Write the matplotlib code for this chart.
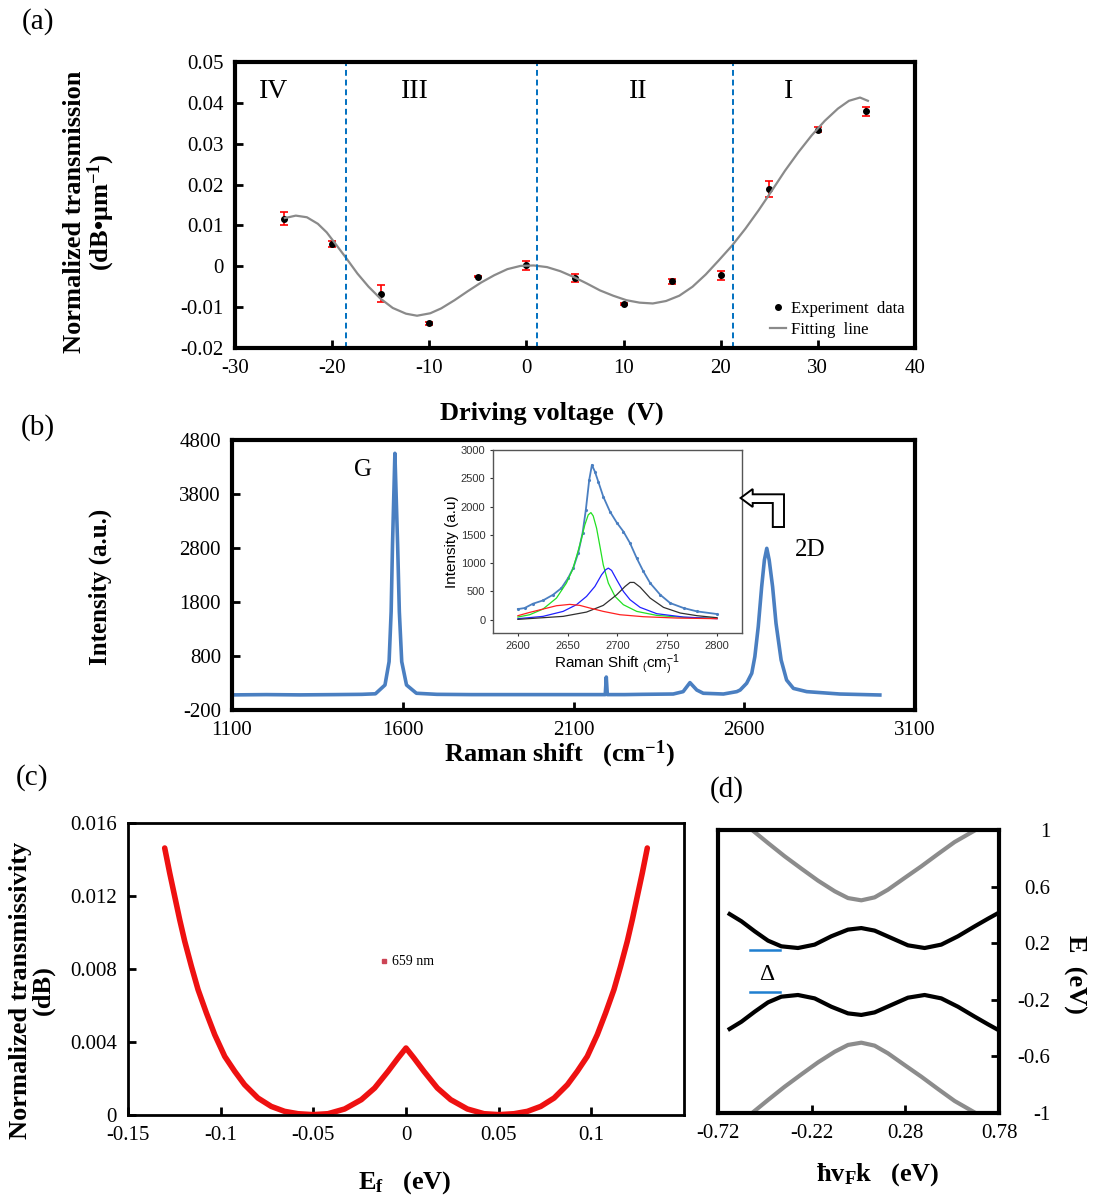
import matplotlib
matplotlib.use('Agg')
import matplotlib.pyplot as plt
from matplotlib.patches import Polygon

SERIF = 'Liberation Serif'
SANS = 'Liberation Sans'
W, H = 1101, 1202

plt.rcParams.update({
    'axes.unicode_minus': False,
    'mathtext.fontset': 'custom',
    'mathtext.rm': SERIF,
    'mathtext.it': SERIF + ':italic',
    'mathtext.bf': SERIF + ':bold',
    'mathtext.sf': SANS,
})

# (a) transmission vs driving voltage
voltage = [-25, -20, -15, -10, -5, 0, 5, 10, 15, 20, 25, 30, 35]
transmission = [0.0116, 0.0054, -0.0067, -0.0140, -0.0025, 0.0002, -0.0028,
                -0.0093, -0.0037, -0.0022, 0.0189, 0.0334, 0.0379]
transmission_err = [0.0016, 0.0008, 0.0020, 0.0003, 0.0002, 0.0012, 0.0010,
                    0.0002, 0.0007, 0.0011, 0.0020, 0.0006, 0.0011]
fit_v = [-24.87, -23.74, -22.60, -21.47, -20.56, -19.66, -18.52, -17.39, -16.25,
         -15.03, -13.76, -12.40, -11.26, -9.90, -8.77, -7.40, -6.04, -4.68,
         -3.32, -1.96, -0.60, 0.76, 2.12, 3.49, 4.85, 6.21, 7.57, 8.93, 10.29,
         11.65, 13.01, 14.37, 15.74, 17.10, 18.46, 19.82, 21.18, 22.54, 23.90,
         25.26, 26.62, 27.99, 29.35, 30.71, 32.07, 33.20, 34.34, 35.15]
fit_t = [0.0118, 0.0124, 0.0120, 0.0104, 0.0083, 0.0055, 0.0019, -0.0018,
         -0.0050, -0.0079, -0.0102, -0.0116, -0.0121, -0.0115, -0.0103, -0.0083,
         -0.0061, -0.0040, -0.0022, -0.0007, 0.0001, 0.0002, -0.0002, -0.0012,
         -0.0026, -0.0042, -0.0059, -0.0072, -0.0083, -0.0089, -0.0091, -0.0085,
         -0.0072, -0.0050, -0.0020, 0.0015, 0.0051, 0.0092, 0.0137, 0.0185,
         0.0234, 0.0279, 0.0320, 0.0356, 0.0386, 0.0405, 0.0413, 0.0405]
region_bounds = [-18.6, 1.1, 21.3]
region_names = ['IV', 'III', 'II', 'I']
region_centers = [-26.0, -11.5, 11.5, 27.0]

# (b) Raman spectrum
raman_x = [1105, 1200, 1300, 1400, 1480, 1520, 1548, 1560, 1566, 1570, 1573.5,
           1577, 1581, 1585, 1590, 1597, 1611, 1640, 1700, 1800, 1900, 2000,
           2100, 2150, 2193, 2196, 2199, 2250, 2300, 2392, 2421, 2441, 2461,
           2480, 2539, 2578, 2588, 2607, 2622, 2631, 2641, 2651, 2659, 2666,
           2673, 2683, 2693, 2708, 2724, 2744, 2783, 2880, 2997]
raman_y = [80, 85, 80, 85, 90, 100, 263, 695, 1620, 2856, 3700, 4553, 3700,
           2856, 1620, 695, 263, 110, 90, 85, 85, 85, 85, 85, 85, 410, 85, 85,
           90, 96, 140, 307, 170, 110, 96, 140, 170, 295, 480, 787, 1343, 2083,
           2578, 2794, 2578, 2083, 1405, 726, 355, 200, 140, 96, 78]

# (b) inset: 2D band and its four components
d2_x = [2600, 2606.7, 2615, 2625.2, 2635.3, 2643.7, 2650.4, 2655.5, 2660.5,
        2664.9, 2668.2, 2671.6, 2674.3, 2677.3, 2680.7, 2685.7, 2692.4, 2699.2,
        2705.9, 2712.6, 2719.3, 2726, 2732.8, 2742.9, 2752.9, 2766.4, 2779.8, 2800]
d2_y = [188, 206, 282, 341, 441, 559, 735, 912, 1176, 1529, 1941, 2471, 2735,
        2618, 2441, 2176, 1912, 1718, 1559, 1353, 1088, 853, 647, 441, 294, 206,
        147, 100]
green_x = [2600, 2611.8, 2625.2, 2638.7, 2648.7, 2655.5, 2662.2, 2667.2, 2670.6,
           2673.3, 2675.6, 2679, 2682.4, 2685.7, 2690.8, 2697.5, 2705.9, 2719.3,
           2739.5, 2766.4, 2800]
green_y = [47, 88, 188, 382, 647, 912, 1324, 1676, 1853, 1894, 1835, 1618, 1294,
           970, 647, 412, 265, 147, 76, 41, 24]
blue_x = [2600, 2625.2, 2645.4, 2658.8, 2668.9, 2677.3, 2684, 2688, 2690.8,
          2694.1, 2699.2, 2705.9, 2712.6, 2722.7, 2739.5, 2766.4, 2800]
blue_y = [18, 59, 147, 265, 412, 588, 794, 882, 912, 871, 706, 500, 353, 218,
          106, 47, 18]
black_x = [2600, 2645.4, 2668.9, 2685.7, 2699.2, 2707.6, 2712.6, 2716.6, 2722.7,
           2732.8, 2746.2, 2763, 2779.8, 2800]
black_y = [6, 59, 135, 253, 441, 588, 659, 659, 576, 382, 218, 118, 71, 35]
red_x = [2600, 2611.8, 2625.2, 2638.7, 2652.1, 2662.2, 2672.3, 2685.7, 2702.5,
         2726, 2759.7, 2800]
red_y = [71, 129, 188, 247, 271, 253, 206, 147, 88, 53, 29, 18]

# (c) transmissivity vs Fermi level (left half, the curve is even in E_f)
ef_left = [-0.1302, -0.1275, -0.1248, -0.1221, -0.1194, -0.1158, -0.1122,
           -0.1077, -0.1032, -0.0978, -0.0924, -0.0871, -0.0799, -0.0727,
           -0.0655, -0.0583, -0.0502, -0.0421, -0.0331, -0.0241, -0.0169,
           -0.0097, -0.0043, 0.0]
trans_left = [0.01463, 0.01326, 0.01198, 0.01070, 0.00952, 0.00815, 0.00687,
              0.00559, 0.00440, 0.00321, 0.00239, 0.00166, 0.00093, 0.00047,
              0.00020, 0.00007, 0.00002, 0.00007, 0.00033, 0.00084, 0.00148,
              0.00239, 0.00312, 0.00367]

# (d) band structure (upper branches; lower ones are mirrored)
outer_k = [-0.551, -0.453, -0.364, -0.275, -0.186, -0.097, -0.026, 0.045,
           0.116, 0.187, 0.276, 0.365, 0.454, 0.543, 0.668]
outer_e = [1.014, 0.908, 0.814, 0.727, 0.642, 0.567, 0.519, 0.503, 0.524,
           0.578, 0.661, 0.743, 0.830, 0.915, 1.01]
inner_k = [-0.658, -0.595, -0.524, -0.453, -0.382, -0.293, -0.204, -0.115,
           -0.026, 0.045, 0.116, 0.205, 0.294, 0.383, 0.472, 0.561, 0.650,
           0.721, 0.766]
inner_e = [0.406, 0.355, 0.284, 0.218, 0.178, 0.166, 0.19, 0.249, 0.296, 0.307,
           0.289, 0.237, 0.185, 0.166, 0.19, 0.249, 0.319, 0.373, 0.406]
gap_edges = [0.150, -0.145]


def px_rect(x0, y0, x1, y1):
    return [x0 / W, 1 - y1 / H, (x1 - x0) / W, (y1 - y0) / H]


def style_box(ax, lw=2.5):
    for side in ax.spines.values():
        side.set_linewidth(lw)
    ax.tick_params(direction='in', length=6, width=2, labelsize=15, pad=8)
    for lab in ax.get_xticklabels() + ax.get_yticklabels():
        lab.set_fontfamily(SERIF)


def set_label_at(label, axis, x, y):
    axis.set_label_coords(x, y)
    label.set_verticalalignment('center')


fig = plt.figure(figsize=(W / 100, H / 100), dpi=100)

# ---- (a)
ax = fig.add_axes(px_rect(235, 62, 915, 348))
ax.errorbar(voltage, transmission, yerr=transmission_err, fmt='none',
            ecolor='red', elinewidth=1.2, capsize=3, capthick=1.2)
ax.plot(voltage, transmission, 'o', color='black', ms=4, label='Experiment  data')
ax.plot(fit_v, fit_t, color='#8a8a8a', lw=1.6, label='Fitting  line')
for b in region_bounds:
    ax.axvline(b, color='#0070c0', ls='--', lw=1.4, dashes=(3, 2))
for name, c in zip(region_names, region_centers):
    ax.text(c, 0.0428, name, family=SERIF, fontsize=20, ha='center', va='center')
ax.set_xlim(-30, 40)
ax.set_ylim(-0.02, 0.05)
ax.set_xticks(range(-30, 41, 10))
ax.set_yticks([-0.02, -0.01, 0, 0.01, 0.02, 0.03, 0.04, 0.05])
ax.set_yticklabels(['-0.02', '-0.01', '0', '0.01', '0.02', '0.03', '0.04', '0.05'])
style_box(ax, 3)
ax.set_xlabel('Driving voltage  (V)', family=SERIF, fontsize=19, fontweight='bold')
set_label_at(ax.xaxis.label, ax.xaxis, 0.466, -0.227)
ax.set_ylabel('Normalized transmission\n(dB\u2022\u03bcm$^{\\mathbf{-1}}$)',
              family=SERIF, fontsize=19, fontweight='bold', linespacing=1.0)
set_label_at(ax.yaxis.label, ax.yaxis, -0.213, 0.476)
ax.legend(loc='lower right', frameon=False, prop={'family': SERIF, 'size': 12},
          handlelength=1.0, handletextpad=0.3, borderaxespad=0.2,
          labelspacing=0.3)

# ---- (b)
bx = fig.add_axes(px_rect(232, 440, 915, 710))
bx.plot(raman_x, raman_y, color='#4a7fc1', lw=2.6)
bx.text(1484, 4245, 'G', family=SERIF, fontsize=18, ha='center', va='center')
bx.text(2792, 2763, '2D', family=SERIF, fontsize=18, ha='center', va='center')
bx.set_xlim(1100, 3100)
bx.set_ylim(-200, 4800)
bx.set_xticks(range(1100, 3101, 500))
bx.set_yticks(range(-200, 4801, 1000))
style_box(bx, 3)
bx.set_xlabel('Raman shift   (cm$^{\\mathbf{-1}}$)', family=SERIF, fontsize=19,
              fontweight='bold')
set_label_at(bx.xaxis.label, bx.xaxis, 0.48, -0.165)
bx.set_ylabel('Intensity (a.u.)', family=SERIF, fontsize=18, fontweight='bold')
set_label_at(bx.yaxis.label, bx.yaxis, -0.193, 0.456)

ins = fig.add_axes(px_rect(493, 450, 742, 633))
ins.plot(d2_x, d2_y, color='#4a7fc1', lw=1.3, marker='.', ms=2.5)
ins.plot(green_x, green_y, color='#22e022', lw=0.9)
ins.plot(blue_x, blue_y, color='#2020ff', lw=0.9)
ins.plot(black_x, black_y, color='#303030', lw=0.9)
ins.plot(red_x, red_y, color='#ff2020', lw=0.9)
ins.set_xlim(2575, 2825)
ins.set_ylim(-235, 3000)
ins.set_xticks(range(2600, 2801, 50))
ins.set_yticks(range(0, 3001, 500))
for side in ins.spines.values():
    side.set_linewidth(1.0)
    side.set_color('#555555')
ins.tick_params(labelsize=8, length=2, colors='#333333')
for lab in ins.get_xticklabels() + ins.get_yticklabels():
    lab.set_fontfamily(SANS)
ins.set_xlabel('Raman Shift $\\mathsf{_{(}cm^{-1}_{)}}$', family=SANS, fontsize=11,
               labelpad=1)
ins.set_ylabel('Intensity (a.u)', family=SANS, fontsize=11, labelpad=1)

arrow_px = [(740.6, 498), (752.7, 489), (752.7, 494.3), (784, 494.3), (784, 527),
            (772.8, 527), (772.8, 503), (752.7, 503), (752.7, 507)]
fig.patches.append(Polygon([(x / W, 1 - y / H) for x, y in arrow_px], closed=True,
                           facecolor='white', edgecolor='black', lw=1.4,
                           transform=fig.transFigure, figure=fig))

# ---- (c)
ef = ef_left + [-k for k in ef_left[-2::-1]]
transmissivity = trans_left + trans_left[-2::-1]
cx = fig.add_axes(px_rect(128, 823, 684, 1115))
cx.plot(ef, transmissivity, color='#ee1111', lw=4, solid_capstyle='round')
cx.plot([], [], ls='none', marker='s', ms=2.5, color='#cc4455', label='659 nm')
cx.legend(loc='center left', bbox_to_anchor=(0.43, 0.524), frameon=False,
          prop={'family': SERIF, 'size': 10}, handlelength=0.6, handletextpad=0.3)
cx.set_xlim(-0.15, 0.15)
cx.set_ylim(0, 0.016)
cx.set_xticks([-0.15, -0.1, -0.05, 0, 0.05, 0.1])
cx.set_xticklabels(['-0.15', '-0.1', '-0.05', '0', '0.05', '0.1'])
cx.set_yticks([0, 0.004, 0.008, 0.012, 0.016])
cx.set_yticklabels(['0', '0.004', '0.008', '0.012', '0.016'])
style_box(cx, 2)
cx.set_xlabel('E$_\\mathbf{f}$   (eV)', family=SERIF, fontsize=19, fontweight='bold')
set_label_at(cx.xaxis.label, cx.xaxis, 0.498, -0.233)
cx.set_ylabel('Normalized transmissivity\n(dB)', family=SERIF, fontsize=19,
              fontweight='bold', linespacing=0.95)
set_label_at(cx.yaxis.label, cx.yaxis, -0.173, 0.428)

# ---- (d)
dx = fig.add_axes(px_rect(718, 830, 999, 1113))
dx.plot(outer_k, outer_e, color='#8c8c8c', lw=3)
dx.plot(outer_k, [-e for e in outer_e], color='#8c8c8c', lw=3)
dx.plot(inner_k, inner_e, color='black', lw=3)
dx.plot(inner_k, [-e for e in inner_e], color='black', lw=3)
for e in gap_edges:
    dx.plot([-0.547, -0.387], [e, e], color='#1f7fd0', lw=1.8)
dx.text(-0.462, -0.022, '\u0394', family=SERIF, fontsize=17, ha='center', va='center')
dx.set_xlim(-0.72, 0.78)
dx.set_ylim(-1, 1)
dx.set_xticks([-0.72, -0.22, 0.28, 0.78])
dx.set_xticklabels(['-0.72', '-0.22', '0.28', '0.78'])
dx.set_yticks([-1, -0.6, -0.2, 0.2, 0.6, 1])
dx.set_yticklabels(['-1', '-0.6', '-0.2', '0.2', '0.6', '1'])
dx.yaxis.tick_right()
style_box(dx, 3)
dx.tick_params(axis='y', pad=37)
plt.setp(dx.get_yticklabels(), ha='right')
dx.set_xlabel('\u0127v$_\\mathbf{F}$k   (eV)', family=SERIF, fontsize=19,
              fontweight='bold')
set_label_at(dx.xaxis.label, dx.xaxis, 0.569, -0.219)
dx.yaxis.set_label_position('right')
dx.set_ylabel('E  (eV)', family=SERIF, fontsize=19, fontweight='bold', rotation=270)
set_label_at(dx.yaxis.label, dx.yaxis, 1.27, 0.488)

for tag, x, y in [('(a)', 38, 22), ('(b)', 38, 428), ('(c)', 32, 778), ('(d)', 727, 790)]:
    fig.text(x / W, 1 - y / H, tag, family=SERIF, fontsize=21, ha='center', va='center')

fig.savefig('out.png', dpi=100)
